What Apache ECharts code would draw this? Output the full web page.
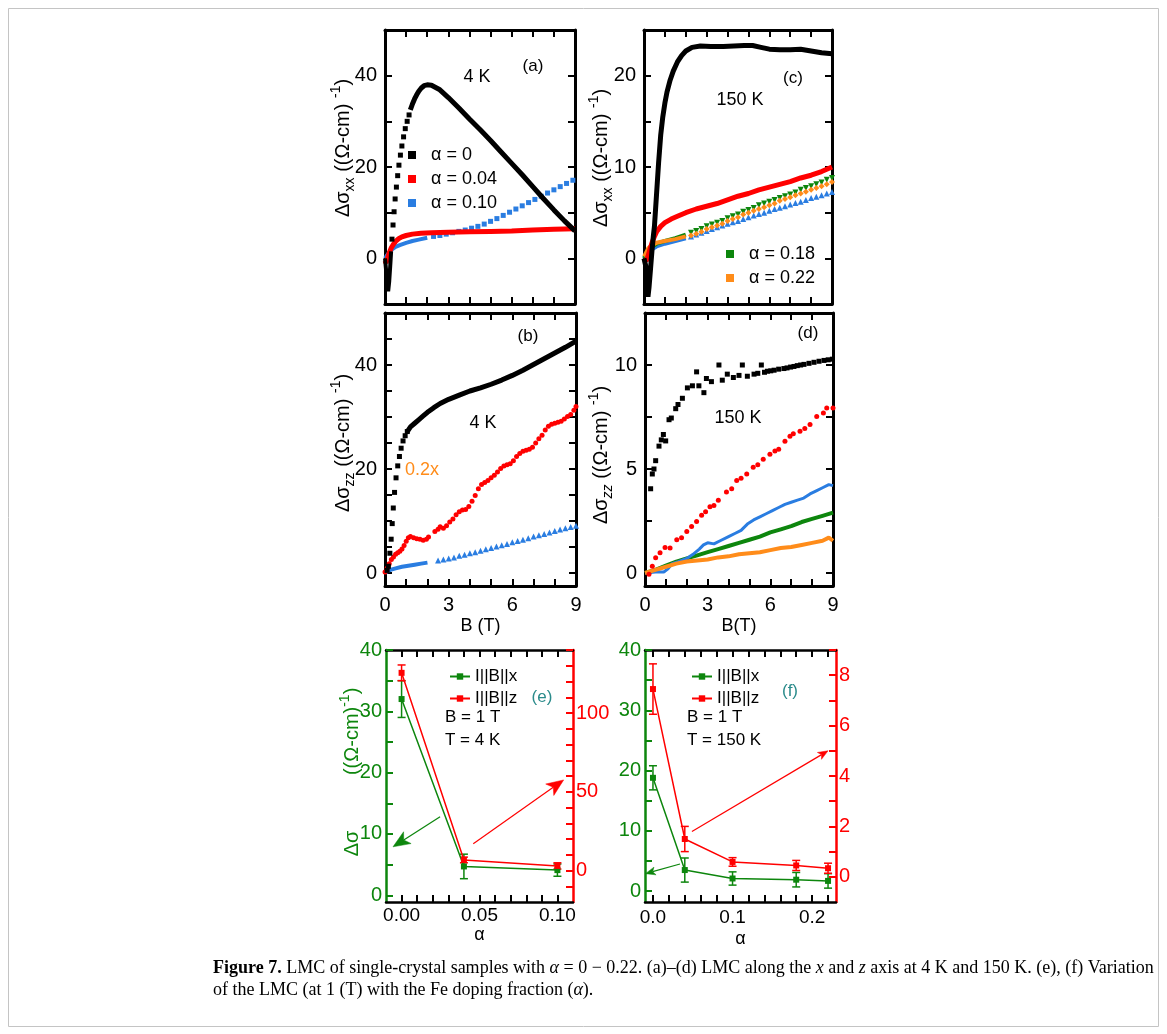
<!DOCTYPE html>
<html><head><meta charset="utf-8">
<script src="https://cdn.jsdelivr.net/npm/echarts@6/dist/echarts.min.js"></script>
<style>html,body{margin:0;padding:0;background:#fff}#c{width:1167px;height:1034px}</style>
</head><body><div id="c"></div>
<script>
// ---------- data (B in T, values in (Ω-cm)^-1) ----------
// panel (a) 4 K, I||B||x
const aBlackStart = [[0,0],[0.05,-2.5],[0.1,-5.5],[0.15,-7.2],[0.2,-5],[0.25,-1.5],[0.29,1.5]];
const aBlackSparse = [[0.33,4.2],[0.38,7.3],[0.43,10.2],[0.48,13.0],[0.54,15.6],[0.6,18.1],[0.66,20.4],[0.73,22.6],[0.8,24.6],[0.88,26.6],[0.96,28.4],[1.05,30.0],[1.14,31.4]];
const aBlackDense = [[1.2,32.5],[1.3,33.8],[1.4,34.9],[1.5,35.8],[1.6,36.6],[1.72,37.3],[1.85,37.8],[2.0,38.0],[2.2,37.9],[2.6,36.9],[3.0,35.2],[3.5,32.9],[4.0,30.5],[4.5,28.2],[5.0,25.8],[5.5,23.3],[6.0,20.8],[6.5,18.3],[7.0,15.7],[7.5,13.1],[8.0,10.6],[8.5,8.2],[9.0,6.0]];
const aRed = [[0,-0.5],[0.05,-1],[0.1,-0.3],[0.2,1.2],[0.3,2.3],[0.4,3.1],[0.5,3.7],[0.65,4.3],[0.8,4.7],[1.0,5.0],[1.3,5.3],[1.7,5.5],[2.2,5.6],[3,5.7],[4,5.8],[5,5.9],[6,6.0],[7,6.2],[8,6.35],[9,6.5]];
const aBlueDense = [[0,0],[0.1,0.7],[0.2,1.3],[0.35,2.0],[0.5,2.5],[0.7,2.9],[1.0,3.4],[1.3,3.8],[1.6,4.1],[2.0,4.5]];
const aBlueSparse = [[2.3,4.8],[2.6,5.0],[2.9,5.3],[3.2,5.6],[3.5,5.9],[3.8,6.2],[4.1,6.6],[4.4,7.0],[4.7,7.5],[5.0,8.1],[5.3,8.7],[5.6,9.4],[5.9,10.1],[6.2,10.8],[6.5,11.5],[6.8,12.2],[7.1,12.9],[7.4,13.6],[7.7,14.3],[8.0,15.0],[8.3,15.7],[8.6,16.4],[8.9,17.1]];
// panel (c) 150 K, I||B||x
const cBlack = [[0,0],[0.08,-0.8],[0.14,-3],[0.19,-4.2],[0.24,-3.2],[0.3,-1.5],[0.38,0.8],[0.45,2.5],[0.5,3.5],[0.6,7],[0.7,10.5],[0.8,13.5],[0.9,15.5],[1.0,17],[1.1,18.2],[1.25,19.5],[1.4,20.5],[1.6,21.5],[1.8,22.2],[2.0,22.7],[2.3,23.1],[2.7,23.25],[3.2,23.2],[3.8,23.2],[4.3,23.25],[4.8,23.3],[5.2,23.3],[5.6,23.1],[6.0,22.9],[6.5,22.85],[7.0,22.85],[7.5,22.9],[8.0,22.7],[8.5,22.5],[9.0,22.4]];
const cRed = [[0,0],[0.1,-0.3],[0.2,0.3],[0.3,1.1],[0.4,1.8],[0.5,2.4],[0.6,2.9],[0.8,3.5],[1.0,3.9],[1.3,4.3],[1.6,4.6],[2.0,5.0],[2.5,5.4],[3,5.7],[3.5,6.0],[4,6.4],[4.5,6.8],[5,7.1],[5.5,7.5],[6,7.8],[6.5,8.1],[7,8.4],[7.5,8.8],[8,9.1],[8.5,9.5],[9,10.0]];
const cBlueDense = [[0,0],[0.1,0.3],[0.2,0.7],[0.4,1.0],[0.6,1.3],[1,1.6],[1.5,1.9],[2,2.2]];
const cBlueSparse = [[2.25,2.4],[2.5,2.6],[2.75,2.8],[3.0,3.0],[3.25,3.2],[3.5,3.4],[3.75,3.6],[4.0,3.8],[4.25,3.95],[4.5,4.1],[4.75,4.3],[5.0,4.5],[5.25,4.7],[5.5,4.85],[5.75,5.0],[6.0,5.2],[6.25,5.4],[6.5,5.55],[6.75,5.7],[7.0,5.9],[7.25,6.05],[7.5,6.2],[7.75,6.4],[8.0,6.6],[8.25,6.75],[8.5,6.9],[8.75,7.1],[9.0,7.25]];
const cGreenDense = [[0,0],[0.1,0.4],[0.2,0.9],[0.4,1.3],[0.6,1.6],[1,1.9],[1.5,2.2],[2,2.6]];
const cGreenSparse = [[2.25,2.8],[2.5,3.0],[2.75,3.2],[3.0,3.5],[3.25,3.7],[3.5,3.9],[3.75,4.1],[4.0,4.4],[4.25,4.6],[4.5,4.8],[4.75,5.1],[5.0,5.3],[5.25,5.5],[5.5,5.8],[5.75,6.0],[6.0,6.2],[6.25,6.4],[6.5,6.6],[6.75,6.8],[7.0,7.0],[7.25,7.2],[7.5,7.5],[7.75,7.7],[8.0,7.9],[8.25,8.1],[8.5,8.3],[8.75,8.6],[9.0,8.8]];
const cOrangeDense = [[0,0.2],[0.1,0.6],[0.2,1.1],[0.4,1.5],[0.6,1.7],[1,1.9],[1.5,2.1],[2,2.4]];
const cOrangeSparse = [[2.25,2.5],[2.5,2.7],[2.75,2.9],[3.0,3.2],[3.25,3.4],[3.5,3.6],[3.75,3.8],[4.0,4.1],[4.25,4.3],[4.5,4.5],[4.75,4.8],[5.0,5.0],[5.25,5.2],[5.5,5.4],[5.75,5.6],[6.0,5.8],[6.25,6.0],[6.5,6.3],[6.75,6.5],[7.0,6.7],[7.25,6.9],[7.5,7.1],[7.75,7.3],[8.0,7.5],[8.25,7.7],[8.5,7.9],[8.75,8.1],[9.0,8.35]];
// panel (b) 4 K, I||B||z
const bBlackSparse = [[0.1,0.5],[0.16,1.3],[0.23,3.8],[0.29,6.5],[0.34,9.5],[0.39,12.5],[0.45,15.5],[0.52,18.3],[0.6,20.6],[0.68,22.4],[0.76,24],[0.85,25.4],[0.95,26.4],[1.05,27.2]];
const bBlackDense = [[1.05,27.2],[1.2,28.1],[1.4,28.8],[1.6,29.5],[1.8,30.2],[2.0,30.9],[2.3,31.8],[2.6,32.6],[3.0,33.4],[3.5,34.2],[4.0,35.0],[4.5,35.6],[5.0,36.3],[5.5,37.1],[6.0,38.0],[6.5,39.0],[7.0,40.1],[7.5,41.2],[8.0,42.3],[8.5,43.4],[9,44.6]];
const bRed = [[0,0.2],[0.1,0.9],[0.2,1.8],[0.3,2.6],[0.4,3.1],[0.5,3.6],[0.6,3.9],[0.7,4.2],[0.8,4.6],[0.9,5.3],[1.0,6.1],[1.1,6.8],[1.2,7.0],[1.35,6.8],[1.5,6.6],[1.65,6.5],[1.8,6.3],[1.95,6.5],[2.05,6.9],[2.35,8.0],[2.5,8.4],[2.6,8.9],[2.75,8.6],[2.9,9.1],[3.05,9.8],[3.2,10.4],[3.35,11.2],[3.5,11.8],[3.65,12.1],[3.8,12.2],[3.95,12.8],[4.1,13.8],[4.25,14.9],[4.4,16.2],[4.55,17.0],[4.7,17.4],[4.85,17.8],[5.0,18.3],[5.15,18.8],[5.3,19.4],[5.45,20.1],[5.6,20.6],[5.75,20.8],[5.9,21.0],[6.05,21.6],[6.2,22.4],[6.35,23.0],[6.5,23.4],[6.65,23.6],[6.8,23.8],[6.95,24.2],[7.1,25.0],[7.25,25.8],[7.4,26.5],[7.55,27.5],[7.7,28.2],[7.85,28.6],[8.0,28.8],[8.15,29.0],[8.3,29.2],[8.45,29.6],[8.6,30.1],[8.75,30.5],[8.9,31.3],[9.0,32.0]];
const bBlueDense = [[0,0],[0.1,0.3],[0.25,0.6],[0.5,0.9],[0.8,1.2],[1.1,1.4],[1.4,1.6],[1.7,1.8],[2.0,2.0]];
const bBlueSparse = [[2.5,2.4],[2.75,2.6],[3.0,2.8],[3.25,3.0],[3.5,3.3],[3.75,3.5],[4.0,3.8],[4.25,4.0],[4.5,4.3],[4.75,4.55],[5.0,4.8],[5.25,5.1],[5.5,5.35],[5.75,5.6],[6.0,5.9],[6.25,6.15],[6.5,6.4],[6.75,6.7],[7.0,7.0],[7.25,7.25],[7.5,7.5],[7.75,7.8],[8.0,8.1],[8.25,8.35],[8.5,8.6],[8.75,8.85],[9.0,9.1]];
// panel (d) 150 K, I||B||z
const dBlack = [[0.27,4.05],[0.35,4.76],[0.43,5.0],[0.51,5.4],[0.67,6.1],[0.78,6.4],[0.88,6.66],[0.99,6.35],[1.15,7.37],[1.26,7.45],[1.47,7.9],[1.58,8.1],[1.79,8.4],[2.03,8.9],[2.27,9.0],[2.47,9.67],[2.58,9.0],[2.82,8.67],[2.94,9.35],[3.18,9.2],[3.54,10.0],[3.7,9.27],[3.94,9.56],[4.23,9.4],[4.5,9.5],[4.66,10.0],[4.9,9.46],[5.22,9.56],[5.4,9.6],[5.57,10.0],[5.72,9.65],[5.86,9.7],[6.02,9.72],[6.18,9.75],[6.4,9.8],[6.65,9.83],[6.8,9.86],[6.97,9.9],[7.13,9.93],[7.29,9.97],[7.45,10.0],[7.61,10.03],[7.85,10.08],[8.09,10.13],[8.33,10.18],[8.57,10.22],[8.77,10.25],[8.97,10.28]];
const dRed = [[0.19,-0.06],[0.35,0.33],[0.51,0.73],[0.72,0.97],[0.96,1.23],[1.2,1.2],[1.52,1.6],[1.75,1.7],[2.0,2.0],[2.23,2.23],[2.47,2.47],[2.71,2.78],[2.9,2.95],[3.11,3.18],[3.3,3.25],[3.51,3.5],[3.9,3.9],[4.15,4.05],[4.39,4.45],[4.6,4.55],[4.87,4.76],[5.18,5.08],[5.4,5.2],[5.66,5.47],[5.98,5.71],[6.22,5.87],[6.4,5.95],[6.7,6.34],[6.94,6.58],[7.1,6.7],[7.42,6.82],[7.65,6.95],[7.9,7.14],[8.22,7.53],[8.54,7.69],[8.7,7.93],[9.0,7.93]];
const dBlue = [[0,0],[0.5,0.05],[0.9,0.05],[1.1,0.2],[1.3,0.45],[1.6,0.55],[2.0,0.7],[2.3,0.9],[2.6,1.15],[2.8,1.35],[3.0,1.45],[3.3,1.4],[3.6,1.55],[4.0,1.75],[4.3,1.9],[4.6,2.05],[4.9,2.35],[5.2,2.55],[5.5,2.7],[5.8,2.85],[6.1,3.0],[6.4,3.15],[6.7,3.3],[7.0,3.4],[7.3,3.5],[7.6,3.6],[7.9,3.8],[8.2,3.95],[8.5,4.1],[8.8,4.25],[9.0,4.2]];
const dGreen = [[0,0],[0.5,0.15],[1,0.35],[1.5,0.55],[2,0.7],[2.5,0.85],[3,1.0],[3.5,1.15],[4,1.3],[4.5,1.45],[5,1.6],[5.5,1.75],[6,1.95],[6.5,2.1],[7,2.25],[7.5,2.45],[8,2.6],[8.5,2.75],[9,2.9]];
const dOrange = [[0,0],[0.5,0.15],[1,0.3],[1.5,0.45],[2,0.55],[2.5,0.6],[3,0.65],[3.5,0.75],[4,0.8],[4.5,0.9],[5,0.95],[5.5,1.0],[6,1.1],[6.5,1.2],[7,1.25],[7.5,1.35],[8,1.45],[8.5,1.55],[8.8,1.7],[9,1.55]];
// panel (e) B = 1 T, T = 4 K
const eAlpha = [0, 0.04, 0.10];
const eX = [32, 4.7, 4.1];
const eXerr = [3, 2, 1];
const eZ = [125.5, 6.7, 2.9];
const eZerr = [5, 1.8, 2];
// panel (f) B = 1 T, T = 150 K
const fAlpha = [0, 0.04, 0.10, 0.18, 0.22];
const fX = [18.8, 3.5, 2.1, 1.9, 1.7];
const fXerr = [2, 2, 1.1, 1.2, 1.2];
const fZ = [7.45, 1.5, 0.59, 0.45, 0.34];
const fZerr = [1, 0.5, 0.17, 0.2, 0.2];
// annotation arrows [x1, y1, x2, y2] in axis units
const eArrowX = [[0.0247, 12.8, -0.0055, 7.9]];
const eArrowZ = [[0.046, 17, 0.104, 57.5]];
const fArrowX = [[0.034, 4.5, -0.0095, 2.9]];
const fArrowZ = [[0.049, 1.8, 0.22, 5.0]];
// tick / label values
const bTicks = [0,1,2,3,4,5,6,7,8,9];
const bLabels = [0,3,6,9];
const aYTicks = [-10,0,10,20,30,40,50], aYLabels = [0,20,40];
const cYTicks = [-5,0,5,10,15,20,25], cYLabels = [0,10,20];
const bYTicks = [0,5,10,15,20,25,30,35,40,45,50], bYLabels = [0,20,40];
const dYTicks = [0,2.5,5,7.5,10,12.5], dYLabels = [0,5,10];
const eXTicks = [0,0.01,0.02,0.03,0.04,0.05,0.06,0.07,0.08,0.09,0.1], eXLabels = [0,0.05,0.1];
const fXTicks = [0,0.02,0.04,0.06,0.08,0.1,0.12,0.14,0.16,0.18,0.2,0.22], fXLabels = [0,0.1,0.2];
const gTicks = [0,5,10,15,20,25,30,35,40], gLabels = [0,10,20,30,40];
const eRTicks = [-10,0,10,20,30,40,50,60,70,80,90,100,110,120,130,140], eRLabels = [0,50,100];
const fRTicks = [0,1,2,3,4,5,6,7,8,9], fRLabels = [0,2,4,6,8];

// ---------- styles ----------
const FONT = "'Liberation Sans', Arial, sans-serif";
const BLACK = '#000', RED = '#ff0000', BLUE = '#2a7de1', GREEN = '#0d860d', ORANGE = '#ff8c1a', TEAL = '#2a8b8b';

const grids = [
  {left:385, top:30, width:190, height:274},
  {left:644, top:30, width:188, height:274},
  {left:385, top:313, width:191, height:273},
  {left:645, top:313, width:188, height:273},
  {left:386, top:650, width:187, height:252},
  {left:645, top:650, width:191, height:252}
];

function ax(g, pos, min, max, ticks, labels, o) {
  o = o || {};
  const col = o.color || BLACK;
  return {
    type:'value', gridIndex:g, position:pos, min:min, max:max,
    splitLine:{show:false},
    axisLine:{show:true, onZero:false, lineStyle:{color:col, width:o.lw || 3}},
    axisTick:{show:true, inside:true, length:o.tl || 7, customValues:ticks, lineStyle:{color:col, width:2}},
    axisLabel:{show:!!labels, customValues:labels || [], margin:o.margin == null ? 8 : o.margin,
      color:o.lcolor || BLACK, fontSize:o.fs || 20, fontFamily:FONT, formatter:o.fmt},
    name:o.name, nameLocation:'middle', nameGap:o.nameGap,
    nameTextStyle:{fontSize:18, fontFamily:FONT, color:BLACK}
  };
}

const xAxes = [
  ax(0,'bottom',0,9,bTicks,null), ax(0,'top',0,9,bTicks,null),
  ax(1,'bottom',0,9,bTicks,null), ax(1,'top',0,9,bTicks,null),
  ax(2,'bottom',0,9,bTicks,bLabels,{margin:9, name:'B (T)', nameGap:31}), ax(2,'top',0,9,bTicks,null),
  ax(3,'bottom',0,9,bTicks,bLabels,{margin:9, name:'B(T)', nameGap:31}), ax(3,'top',0,9,bTicks,null),
  ax(4,'bottom',-0.01,0.11,eXTicks,eXLabels,{lw:2.5, margin:4, fs:19, fmt:v=>v.toFixed(2), name:'α', nameGap:24}), ax(4,'top',-0.01,0.11,eXTicks,null,{lw:2.5}),
  ax(5,'bottom',-0.01,0.23,fXTicks,fXLabels,{lw:2.5, margin:6, fs:19, fmt:v=>v.toFixed(1), name:'α', nameGap:28}), ax(5,'top',-0.01,0.23,fXTicks,null,{lw:2.5})
];
const yAxes = [
  ax(0,'left',-10,50,aYTicks,aYLabels), ax(0,'right',-10,50,aYTicks,null),
  ax(1,'left',-5,25,cYTicks,cYLabels), ax(1,'right',-5,25,cYTicks,null),
  ax(2,'left',-2.5,50,bYTicks,bYLabels), ax(2,'right',-2.5,50,bYTicks,null),
  ax(3,'left',-0.625,12.5,dYTicks,dYLabels), ax(3,'right',-0.625,12.5,dYTicks,null),
  ax(4,'left',-1.1,40,gTicks,gLabels,{color:GREEN, lcolor:GREEN, lw:2.5, margin:4}),
  ax(4,'right',-20,140,eRTicks,eRLabels,{color:RED, lcolor:RED, lw:2.5, margin:3}),
  ax(5,'left',-1.8,40,gTicks,gLabels,{color:GREEN, lcolor:GREEN, lw:2.5, margin:4}),
  ax(5,'right',-1,9,fRTicks,fRLabels,{color:RED, lcolor:RED, lw:2.5, margin:3})
];

function lineS(name, g, data, color, w, z) {
  return {name:name, type:'line', xAxisIndex:2*g, yAxisIndex:2*g, data:data, symbol:'none', showSymbol:false,
    color:color, lineStyle:{color:color, width:w}, z:z || 2, silent:true};
}
function scat(name, g, data, color, symbol, size, rot, z) {
  return {name:name, type:'scatter', xAxisIndex:2*g, yAxisIndex:2*g, data:data, symbol:symbol, symbolSize:size,
    symbolRotate:rot || 0, color:color, itemStyle:{color:color, opacity:1}, z:z || 2, silent:true};
}
function pairs(xs, ys) { return xs.map((x, i) => [x, ys[i]]); }
function triples(xs, ys, es) { return xs.map((x, i) => [x, ys[i], es[i]]); }
function errS(g, yi, data, color) {
  return {type:'custom', name:'err', xAxisIndex:2*g, yAxisIndex:yi, data:data, silent:true, z:3,
    encode:{x:0, y:1},
    renderItem:function(p, api) {
      const x = api.value(0), y = api.value(1), e = api.value(2);
      const t = api.coord([x, y + e]), b = api.coord([x, y - e]);
      const w = 4, st = {stroke:color, lineWidth:1.5};
      return {type:'group', children:[
        {type:'line', shape:{x1:t[0], y1:t[1], x2:b[0], y2:b[1]}, style:st},
        {type:'line', shape:{x1:t[0]-w, y1:t[1], x2:t[0]+w, y2:t[1]}, style:st},
        {type:'line', shape:{x1:b[0]-w, y1:b[1], x2:b[0]+w, y2:b[1]}, style:st}
      ]};
    }};
}
function arrowS(g, yi, data, color, L, W) {
  return {type:'custom', name:'arrow', xAxisIndex:2*g, yAxisIndex:yi, data:data, silent:true, z:5, clip:false,
    encode:{x:[0,2], y:[1,3]},
    renderItem:function(p, api) {
      const a = api.coord([api.value(0), api.value(1)]), b = api.coord([api.value(2), api.value(3)]);
      const dx = b[0] - a[0], dy = b[1] - a[1], len = Math.sqrt(dx*dx + dy*dy);
      const ux = dx / len, uy = dy / len, nx = -uy, ny = ux;
      const bx = b[0] - ux * L, by = b[1] - uy * L;
      const mx = b[0] - ux * L * 0.75, my = b[1] - uy * L * 0.75;
      return {type:'group', children:[
        {type:'line', shape:{x1:a[0], y1:a[1], x2:mx, y2:my}, style:{stroke:color, lineWidth:1.2}},
        {type:'polygon', shape:{points:[[b[0], b[1]], [bx + nx*W, by + ny*W], [mx, my], [bx - nx*W, by - ny*W]]},
          style:{fill:color, stroke:color, lineWidth:0.5}}
      ]};
    }};
}
function ptS(name, g, yi, data, color) {
  return {name:name, type:'line', xAxisIndex:2*g, yAxisIndex:yi, data:data, symbol:'rect', symbolSize:6,
    showSymbol:true, color:color, itemStyle:{color:color}, lineStyle:{color:color, width:1.5}, z:4, silent:true};
}

const A0 = 'α = 0', A04 = 'α = 0.04', A10 = 'α = 0.10', A18 = 'α = 0.18', A22 = 'α = 0.22';
const series = [
  // (a)
  lineS(A10, 0, aBlueDense, BLUE, 4, 2), scat(A10, 0, aBlueSparse, BLUE, 'rect', 5, 0, 2),
  lineS(A04, 0, aRed, RED, 5, 3),
  lineS(A0, 0, aBlackStart, BLACK, 4, 4), scat(A0, 0, aBlackSparse, BLACK, 'rect', 5, 0, 4), lineS(A0, 0, aBlackDense, BLACK, 5, 4),
  // (c)
  lineS(A10, 1, cBlueDense, BLUE, 4, 2), scat(A10, 1, cBlueSparse, BLUE, 'triangle', 6, 0, 2),
  lineS(A22, 1, cOrangeDense, ORANGE, 4, 3), scat(A22, 1, cOrangeSparse, ORANGE, 'diamond', 6, 0, 3),
  lineS(A18, 1, cGreenDense, GREEN, 4, 2), scat(A18, 1, cGreenSparse, GREEN, 'triangle', 6, 180, 2),
  lineS(A04, 1, cRed, RED, 5, 4),
  lineS(A0, 1, cBlack, BLACK, 5, 5),
  // (b)
  lineS(A10, 2, bBlueDense, BLUE, 4, 2), scat(A10, 2, bBlueSparse, BLUE, 'triangle', 6, 0, 2),
  scat(A04, 2, bRed, RED, 'circle', 5, 0, 3),
  scat(A0, 2, bBlackSparse, BLACK, 'rect', 5, 0, 4), lineS(A0, 2, bBlackDense, BLACK, 5, 4),
  // (d)
  lineS(A22, 3, dOrange, ORANGE, 4, 3),
  lineS(A18, 3, dGreen, GREEN, 4, 2),
  lineS(A10, 3, dBlue, BLUE, 3, 2),
  scat(A04, 3, dRed, RED, 'circle', 5, 0, 4),
  scat(A0, 3, dBlack, BLACK, 'rect', 5, 0, 4),
  // (e)
  errS(4, 8, triples(eAlpha, eX, eXerr), GREEN),
  errS(4, 9, triples(eAlpha, eZ, eZerr), RED),
  ptS('I||B||x', 4, 8, pairs(eAlpha, eX), GREEN),
  ptS('I||B||z', 4, 9, pairs(eAlpha, eZ), RED),
  arrowS(4, 8, eArrowX, GREEN, 17, 7),
  arrowS(4, 9, eArrowZ, RED, 17, 7),
  // (f)
  errS(5, 10, triples(fAlpha, fX, fXerr), GREEN),
  errS(5, 11, triples(fAlpha, fZ, fZerr), RED),
  ptS('I||B||x', 5, 10, pairs(fAlpha, fX), GREEN),
  ptS('I||B||z', 5, 11, pairs(fAlpha, fZ), RED),
  arrowS(5, 10, fArrowX, GREEN, 10, 4),
  arrowS(5, 11, fArrowZ, RED, 10, 4)
];

function sqLegend(names, left, top) {
  return {data:names, left:left, top:top, orient:'vertical', icon:'rect', itemWidth:8, itemHeight:8, itemGap:6,
    selectedMode:false, formatter:n => '  ' + n, textStyle:{fontSize:18, fontFamily:FONT, color:BLACK}};
}
function lnLegend(left, top) {
  return {data:['I||B||x','I||B||z'], left:left, top:top, orient:'vertical', itemWidth:20, itemHeight:8, itemGap:5,
    selectedMode:false, textStyle:{fontSize:17, fontFamily:FONT, color:BLACK}};
}

function txt(t, x, y, size, color, align) {
  const al = align || 'center';
  return {type:'text', x:x, y:y, silent:true, style:{text:t, fontSize:size, fontFamily:FONT, fill:color || BLACK,
    align:al, verticalAlign:'middle', textAlign:al, textVerticalAlign:'middle'}};
}
function ytitle(sub, x, y, italicSub, color, fs, gap) {
  const c = color || BLACK, f = fs || 20, sf = Math.round(f * 0.7);
  const text = sub ? '{m|Δσ}{s|' + sub + '}{m| ((Ω-cm) }{p|-1}{m|)}' : '{m|Δσ' + gap + '((Ω-cm)}{p|-1}{m|)}';
  return {type:'text', x:x, y:y, rotation:Math.PI/2, silent:true, style:{text:text, fill:c,
    align:'center', verticalAlign:'middle', textAlign:'center', textVerticalAlign:'middle',
    rich:{
      m:{fontSize:f, fontFamily:FONT, fill:c, lineHeight:f + 8, verticalAlign:'middle'},
      s:{fontSize:sf, fontFamily:FONT, fill:c, lineHeight:f + 8, verticalAlign:'bottom', fontStyle:italicSub ? 'italic' : 'normal'},
      p:{fontSize:sf, fontFamily:FONT, fill:c, lineHeight:f + 8, verticalAlign:'top'}
    }}};
}
const SERIF = "'Liberation Serif', 'DejaVu Serif', serif";
function cap(t, x, y) {
  const fs = 18;
  return {type:'text', x:x, y:y, silent:true, style:{text:t, fontSize:fs, fontFamily:SERIF, fill:BLACK,
    align:'left', verticalAlign:'middle', textAlign:'left', textVerticalAlign:'middle',
    rich:{
      n:{fontSize:fs, fontFamily:SERIF, fill:BLACK},
      b:{fontSize:fs, fontFamily:SERIF, fill:BLACK, fontWeight:'bold'},
      i:{fontSize:fs, fontFamily:SERIF, fill:BLACK, fontStyle:'italic'}
    }}};
}

const graphics = [
  {type:'rect', shape:{x:8.5, y:8.5, width:1150, height:1018}, style:{fill:null, stroke:'#c4c4c4', lineWidth:1}, silent:true, z:-10},
  txt('(a)', 533, 66, 17), txt('4 K', 477, 77, 18),
  txt('(c)', 793, 78, 17), txt('150 K', 740, 100, 18),
  txt('(b)', 528, 336, 17), txt('4 K', 483, 423, 18), txt('0.2x', 422, 470, 18, ORANGE),
  txt('(d)', 808, 333, 17), txt('150 K', 738, 418, 18),
  txt('B = 1 T', 445, 717, 17, BLACK, 'left'),
  txt('T = 4 K', 445, 740, 17, BLACK, 'left'),
  txt('(e)', 542, 697, 17, TEAL),
  txt('B = 1 T', 687, 717, 17, BLACK, 'left'),
  txt('T = 150 K', 687, 740, 17, BLACK, 'left'),
  txt('(f)', 790, 691, 17, TEAL),
  ytitle('xx', 343, 148, false), ytitle('xx', 601, 158, false),
  ytitle('zz', 343, 443, false), ytitle('zz', 601, 455, true),
  ytitle(null, 352, 772, false, GREEN, 20, '          '),
  cap('{b|Figure 7.} LMC of single-crystal samples with {i|α} = 0 − 0.22. (a)–(d) LMC along the {i|x} and {i|z} axis at 4 K and 150 K. (e), (f) Variation', 213, 968),
  cap('of the LMC (at 1 (T) with the Fe doping fraction ({i|α}).', 213, 990)
];

const chart = echarts.init(document.getElementById('c'));
chart.setOption({
  animation:false,
  backgroundColor:'#fff',
  grid:grids,
  xAxis:xAxes,
  yAxis:yAxes,
  legend:[sqLegend([A0, A04, A10], 403, 141), sqLegend([A18, A22], 721, 240), lnLegend(444, 663), lnLegend(686, 663)],
  series:series,
  graphic:graphics
});
</script></body></html>
